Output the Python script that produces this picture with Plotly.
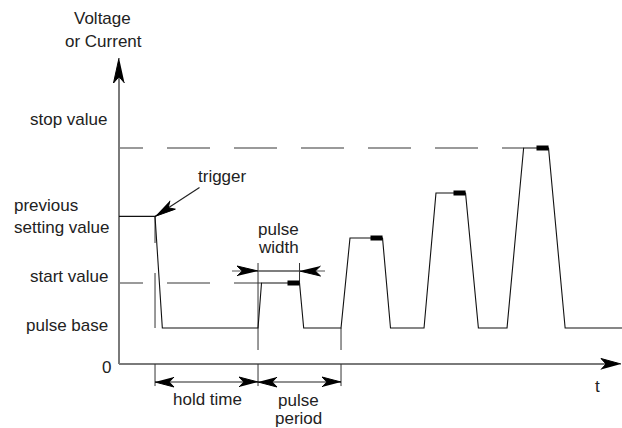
import numpy as np
import plotly.graph_objects as go

# ---------------- data ----------------
# levels (arbitrary units, 0 = zero line)
zero_level = 0.0
pulse_base = 4.0
start_value = 9.0
previous_value = 16.4
stop_value = 24.0
pulse_levels = [9.0, 14.0, 19.0, 24.0]

# time (arbitrary units, 0 = vertical axis)
trigger_t = 4.34
trigger_fall = 0.88
hold_time = 12.41
pulse_period = 10.0
pulse_width = 5.0
rise_times = [0.42, 1.08, 1.44, 2.0]
fall_times = [0.5, 0.96, 1.55, 2.0]
measure_len = 1.45
t_end = 60.6

level_labels = ["stop value", "previous", "setting value", "start value", "pulse base", "0"]

# ---------------- geometry of the canvas ----------------
W, H = 622, 428
KX, KY = 8.3, 9.0            # px per unit
X0PX, Y0PX = 119, 364        # pixel of the origin
x_range = [-X0PX / KX, (W - X0PX) / KX]
y_range = [-(H - Y0PX) / KY, Y0PX / KY]

AX_COL = "#7a7a7a"
INK = "#111111"
FONT = dict(family="Liberation Sans, Arial, sans-serif", size=17, color="#222222")


def px(x):
    return x / W


def py(y):
    return 1 - y / H


# ---------------- waveform ----------------
wt, wv = [0.0, trigger_t, trigger_t + trigger_fall], [previous_value, previous_value, pulse_base]
pulse_starts = [trigger_t + hold_time + i * pulse_period for i in range(len(pulse_levels))]
marks_t, marks_v = [], []
for s, lvl, r, f in zip(pulse_starts, pulse_levels, rise_times, fall_times):
    top_end = s + pulse_width
    wt += [s, s + r, top_end, top_end + f]
    wv += [pulse_base, lvl, lvl, pulse_base]
    marks_t += [top_end - measure_len, top_end, None]
    marks_v += [lvl, lvl, None]
wt.append(t_end)
wv.append(pulse_base)

fig = go.Figure()


def seg_trace(segs, color, width, dash="solid"):
    xs, ys = [], []
    for (a, b), (c, d) in segs:
        xs += [a, c, None]
        ys += [b, d, None]
    fig.add_trace(go.Scatter(x=xs, y=ys, mode="lines", line=dict(color=color, width=width, dash=dash),
                             hoverinfo="skip", showlegend=False))


heads_x, heads_y = [], []


def arrowhead(tip, tail, L=20, Wd=8):
    dx = (tip[0] - tail[0]) * KX
    dy = (tip[1] - tail[1]) * KY
    n = np.hypot(dx, dy)
    ux, uy = dx / n, dy / n
    nx, ny = -uy, ux
    pts = [(0, 0), (-L * ux + Wd / 2 * nx, -L * uy + Wd / 2 * ny), (-0.75 * L * ux, -0.75 * L * uy),
           (-L * ux - Wd / 2 * nx, -L * uy - Wd / 2 * ny)]
    for p in pts:
        heads_x.append(tip[0] + p[0] / KX)
        heads_y.append(tip[1] + p[1] / KY)
    heads_x.append(None)
    heads_y.append(None)


# dashed reference lines
dash_pat = "24px,24px,43px,24px,43px,24px,43px,24px,43px,24px,43px,24px,43px,24px"
seg_trace([((0, start_value), (pulse_starts[0] + rise_times[0], start_value)),
           ((0, stop_value), (pulse_starts[3] + rise_times[3], stop_value))], AX_COL, 1.5, dash_pat)

# axes
y_tip = (Y0PX - 58) / KY
x_tip = (W - 1 - X0PX) / KX
seg_trace([((0, 0), (0, y_tip - 1.5)), ((0, 0), (x_tip - 1.5, 0))], AX_COL, 2)
arrowhead((0, y_tip), (0, 0), L=25, Wd=11)
arrowhead((x_tip, 0), (0, 0), L=20, Wd=11)

# extension / dimension lines
dim_v = -2.0
ext_low = -2.45
p0, p1 = pulse_starts[0], pulse_starts[1]
w_v = (Y0PX - 271) / KY
ext_top = (Y0PX - 263) / KY
ext_mid = (Y0PX - 350) / KY
thin = [
    ((trigger_t, 0), (trigger_t, ext_low)),
    ((p0, 0), (p0, ext_low)),
    ((p1, 0), (p1, ext_low)),
    ((p0, ext_top), (p0, ext_mid)),
    ((p1, pulse_base), (p1, ext_mid)),
    ((p0 + pulse_width, start_value), (p0 + pulse_width, ext_top)),
    ((trigger_t, previous_value), (trigger_t, (Y0PX - 243) / KY)),
    ((trigger_t, (Y0PX - 273) / KY), (trigger_t, pulse_base)),
]
seg_trace(thin, "#333333", 1)

# dimension arrows
dims = [
    ((trigger_t, dim_v), (p0, dim_v)),
    ((p0, dim_v), (p1, dim_v)),
]
seg_trace(dims, "#222222", 1.2)
for (a, b) in dims:
    arrowhead(a, b, L=19, Wd=10)
    arrowhead(b, a, L=19, Wd=10)

w_left_tail = (232 - X0PX) / KX
w_right_tail = (325 - X0PX) / KX
seg_trace([((w_left_tail, w_v), (p0 + pulse_width, w_v)), ((p0, w_v), (w_right_tail, w_v))], "#555555", 1.2)
arrowhead((p0, w_v), (w_left_tail, w_v), L=21, Wd=10)
arrowhead((p0 + pulse_width, w_v), (w_right_tail, w_v), L=21, Wd=10)

# trigger arrow
trig_tail = ((199.5 - X0PX) / KX, (Y0PX - 187.5) / KY)
seg_trace([(trig_tail, (trigger_t, previous_value))], "#222222", 1.2)
arrowhead((trigger_t, previous_value), trig_tail, L=21, Wd=10)

# waveform
fig.add_trace(go.Scatter(x=wt, y=wv, mode="lines", line=dict(color=INK, width=1.1),
                         hoverinfo="skip", showlegend=False))
fig.add_trace(go.Scatter(x=marks_t, y=marks_v, mode="lines", line=dict(color="#000000", width=5),
                         hoverinfo="skip", showlegend=False))

fig.add_trace(go.Scatter(x=heads_x, y=heads_y, mode="lines", fill="toself", fillcolor="#000000",
                         line=dict(color="#000000", width=1), hoverinfo="skip", showlegend=False))

# ---------------- texts ----------------
texts = [
    ("Voltage", 102, 19, "center"),
    ("or Current", 103.5, 42, "center"),
    (level_labels[0], 110, 119, "right"),
    (level_labels[1], 12, 205, "left"),
    (level_labels[2], 12, 227, "left"),
    (level_labels[3], 110, 276, "right"),
    (level_labels[4], 110, 325, "right"),
    (level_labels[5], 113, 367, "right"),
    ("trigger", 222.5, 176, "center"),
    ("pulse", 278, 229, "center"),
    ("width", 278, 248, "center"),
    ("hold time", 207, 399, "center"),
    ("pulse", 298, 400, "center"),
    ("period", 298, 418, "center"),
    ("t", 597, 386, "center"),
]
for txt, x, y, anc in texts:
    fig.add_annotation(x=px(x), y=py(y), xref="paper", yref="paper", text=txt, showarrow=False,
                       xanchor=anc, yanchor="middle", font=FONT)

fig.update_layout(
    width=W, height=H, margin=dict(l=0, r=0, t=0, b=0),
    paper_bgcolor="white", plot_bgcolor="white",
    xaxis=dict(range=x_range, visible=False, fixedrange=True),
    yaxis=dict(range=y_range, visible=False, fixedrange=True),
    showlegend=False,
)
fig.write_html("out.html", config={"displayModeBar": False},
               post_script="document.body.style.margin='0px';document.body.style.overflow='hidden';")
